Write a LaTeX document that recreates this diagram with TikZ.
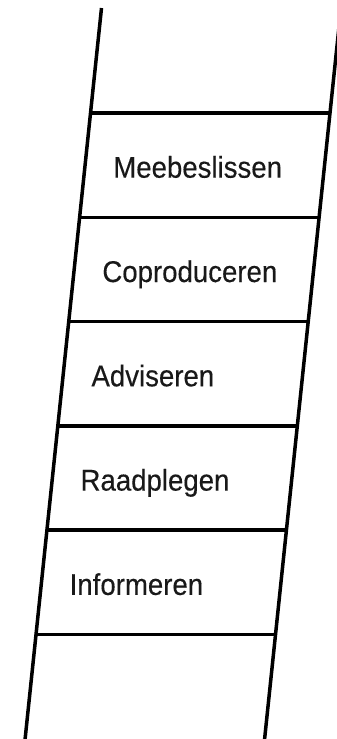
\documentclass[tikz,border=0pt]{standalone}
\usepackage{fontspec}
\setmainfont[FakeStretch=0.92,FakeBold=0.3]{Liberation Sans}
\begin{document}
\begin{tikzpicture}[x=1pt, y=-1pt, line width=3.5pt,
    lbl/.style={anchor=base west, inner sep=0pt, font=\fontsize{30}{32}\selectfont, text=black!90}]
  \useasboundingbox (0,0) rectangle (337,739);
  \clip (0,0) rectangle (337,739);
  % rails
  \draw (101.5,8) -- (25.1,739);
  \draw (341.8,0) -- (264.6,739);
  % rungs
  \foreach \k in {0,...,5} {
    \pgfmathsetmacro{\y}{113+104.3*\k}
    \draw ({102.3-0.1045*\y},\y) -- ({341.8-0.1045*\y},\y);
  }
  % steps
  \foreach \name/\txt [count=\k from 0] in {meebeslissen/Meebeslissen, coproduceren/Coproduceren, adviseren/Adviseren, raadplegen/Raadplegen, informeren/Informeren} {
    \pgfmathsetmacro{\y}{165.2+104.3*\k}
    \node[lbl] (\name) at ({102.3-0.1045*\y+26.5},{\y+12.5}) {\txt};
  }
\end{tikzpicture}
\end{document}
